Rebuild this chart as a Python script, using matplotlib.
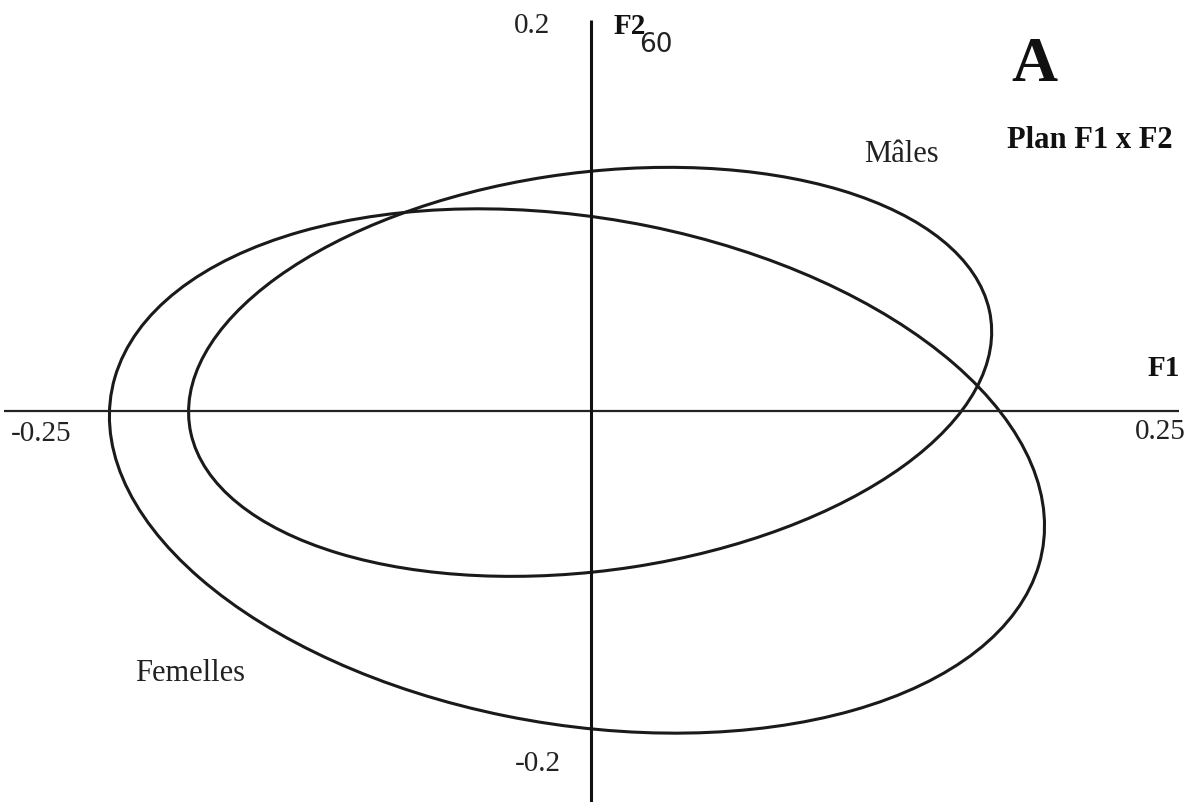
#!/usr/bin/env python3
# -*- coding: utf-8 -*-

'''
plan_f1_f2.py

Confidence ellipses for males and females on the first factorial plane (F1 x F2)
'''

import matplotlib
matplotlib.use('Agg')
import matplotlib.pyplot as plt
from matplotlib.patches import Ellipse


# Ellipse parameters in factor coordinates: centre (F1, F2), full width, full height, angle (deg)
groups = ['Mâles', 'Femelles']
centre_f1 = [-0.0004, -0.0060]
centre_f2 = [0.0200, -0.0307]
ell_width = [0.3455, 0.4047]
ell_height = [0.2029, 0.2578]
ell_angle = [10.5, -13.7]

# Axis extents and tick labels
f1_range = [-0.25, 0.25]
f2_range = [-0.2, 0.2]
f1_labels = ['-0.25', '0.25']
f2_labels = ['-0.2', '0.2']


def main():

    serif = ['Liberation Serif', 'DejaVu Serif']

    fig = plt.figure(figsize=(11.96, 8.03), dpi=100)
    ax = fig.add_axes([0, 0, 1, 1])
    ax.set_xlim(-0.2515, 0.2574)
    ax.set_ylim(-0.2000, 0.2107)
    ax.axis('off')

    # Axes of the factorial plane
    ax.plot(f1_range, [0, 0], color='#222222', linewidth=1.6, solid_capstyle='butt')
    ax.plot([0, 0], f2_range, color='#111111', linewidth=2.2, solid_capstyle='butt')

    # Ellipses
    for i in range(len(groups)):
        e = Ellipse((centre_f1[i], centre_f2[i]), ell_width[i], ell_height[i],
                    angle=ell_angle[i], fill=False, edgecolor='#1a1a1a', linewidth=2.2)
        ax.add_patch(e)

    # Tick labels (placed in figure pixels / size)
    W, H = 1196.0, 803.0
    def fx(px):
        return px / W
    def fy(py):
        return 1 - py / H

    ax.text(fx(41), fy(434), f1_labels[0], transform=ax.transAxes, ha='center', va='center',
            fontsize=21, family=serif, color='#222222')
    ax.text(fx(1160), fy(432), f1_labels[1], transform=ax.transAxes, ha='center', va='center',
            fontsize=21, family=serif, color='#222222')
    ax.text(fx(538), fy(764), f2_labels[0], transform=ax.transAxes, ha='center', va='center',
            fontsize=21, family=serif, color='#222222')
    ax.text(fx(532), fy(26), f2_labels[1], transform=ax.transAxes, ha='center', va='center',
            fontsize=21, family=serif, color='#222222')

    # Axis names
    ax.text(fx(630), fy(26), 'F2', transform=ax.transAxes, ha='center', va='center',
            fontsize=21, family=serif, fontweight='bold', color='#111111')
    ax.text(fx(656), fy(45), '60', transform=ax.transAxes, ha='center', va='center',
            fontsize=19, family=['DejaVu Sans'], color='#222222')
    ax.text(fx(1164), fy(368), 'F1', transform=ax.transAxes, ha='center', va='center',
            fontsize=21, family=serif, fontweight='bold', color='#111111')

    # Panel letter and plane title
    ax.text(fx(1034), fy(66), 'A', transform=ax.transAxes, ha='center', va='center',
            fontsize=46, family=serif, fontweight='bold', color='#111111')
    ax.text(fx(1090), fy(140), 'Plan F1 x F2', transform=ax.transAxes, ha='center', va='center',
            fontsize=22, family=serif, fontweight='bold', color='#111111')

    # Group labels
    ax.text(fx(901), fy(155), groups[0], transform=ax.transAxes, ha='center', va='center',
            fontsize=22, family=serif, color='#222222')
    ax.text(fx(190), fy(674), groups[1], transform=ax.transAxes, ha='center', va='center',
            fontsize=22, family=serif, color='#222222')

    fig.savefig('out.png', dpi=100, facecolor='white')
    plt.close(fig)


if __name__ == '__main__':
    main()
